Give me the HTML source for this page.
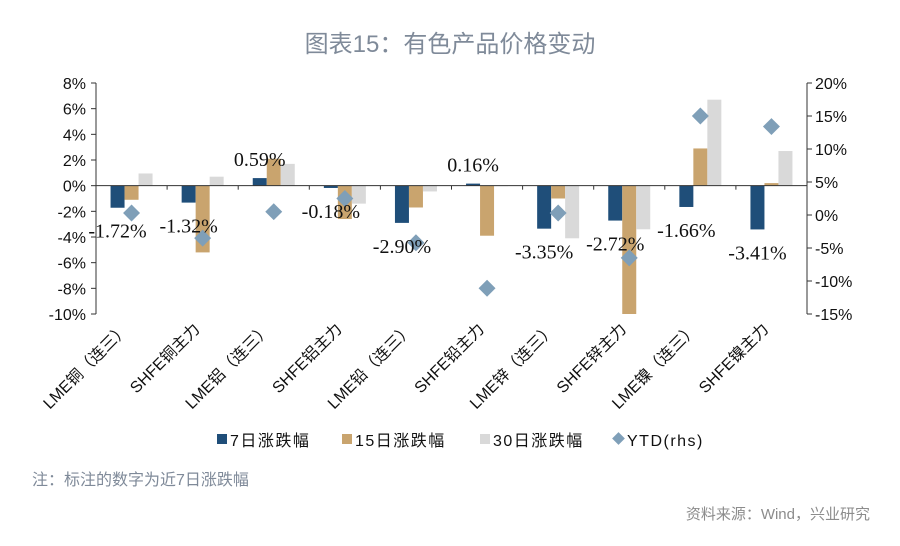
<!DOCTYPE html>
<html><head><meta charset="utf-8"><style>
body{margin:0;background:#fff;width:900px;height:541px;overflow:hidden}
svg text{font-family:"Liberation Sans","Noto Sans CJK SC",sans-serif}
</style></head><body>
<svg id="c" width="900" height="541">
<text x="450" y="52" text-anchor="middle" font-size="24" fill="#7f8a99">图表15：有色产品价格变动</text>
<g id="g"></g>
<text x="32" y="485" font-size="16" fill="#7f8a99">注：标注的数字为近7日涨跌幅</text>
<text x="870" y="519" text-anchor="end" font-size="15" fill="#8c8c8c">资料来源：Wind，兴业研究</text>
</svg>
<script>
const categories=["LME铜（连三）","SHFE铜主力","LME铝（连三）","SHFE铝主力","LME铅（连三）","SHFE铅主力","LME锌（连三）","SHFE锌主力","LME镍（连三）","SHFE镍主力"];
const d7=[-1.72,-1.32,0.59,-0.18,-2.90,0.16,-3.35,-2.72,-1.66,-3.41];
const d15=[-1.1,-5.2,2.1,-2.6,-1.7,-3.9,-1.0,-10.0,2.9,0.2];
const d30=[0.95,0.7,1.7,-1.4,-0.45,0,-4.1,-3.4,6.7,2.7];
const ytd=[0.3,-3.5,0.5,2.5,-4.2,-11.1,0.3,-6.5,15.0,13.4];
const leftTicks=[8,6,4,2,0,-2,-4,-6,-8,-10];
const rightTicks=[20,15,10,5,0,-5,-10,-15];
const X0=96,X1=807,Y0=83,Y1=314;
const yL=v=>Y0+(8-v)/18*(Y1-Y0);
const yR=v=>Y0+(20-v)/35*(Y1-Y0);
const bw=(X1-X0)/categories.length;
const cx=i=>X0+bw*(i+0.5);
const g=document.getElementById('g');
const NS='http://www.w3.org/2000/svg';
function mk(t,a,txt){const e=document.createElementNS(NS,t);for(const k in a)e.setAttribute(k,a[k]);if(txt!==undefined)e.textContent=txt;g.appendChild(e);return e;}
let e;
e=mk('line',{x1:X0,y1:Y0,x2:X0,y2:Y1,stroke:'#333'});


e=mk('line',{x1:X1,y1:Y0,x2:X1,y2:Y1,stroke:'#333'});


leftTicks.forEach(v=>{
 mk('line',{x1:X0-5,x2:X0,y1:yL(v),y2:yL(v),stroke:'#333'});
 e=mk('text',{x:X0-10,y:yL(v)+6,'text-anchor':'end','font-size':16,fill:'#111'},v+'%');
 
 
});
rightTicks.forEach(v=>{
 mk('line',{x1:X1,x2:X1+5,y1:yR(v),y2:yR(v),stroke:'#333'});
 e=mk('text',{x:X1+8,y:yR(v)+6,'font-size':16,fill:'#111'},v+'%');
 
 
});
const W=14,cols=['#1f4e79','#c9a46e','#d9d9d9'],series=[d7,d15,d30],sn=['bar-7d','bar-15d','bar-30d'];
categories.forEach((c,i)=>{
 series.forEach((s,k)=>{
  const x=cx(i)-1.5*W+k*W,y=Math.min(yL(0),yL(s[i])),h=Math.abs(yL(s[i])-yL(0));
  e=mk('rect',{x:x,y:y,width:W,height:Math.max(h,0.5),fill:cols[k]});
  
  
 });
 const ty=yR(ytd[i]);
 e=mk('rect',{x:cx(i)-6,y:ty-6,width:12,height:12,fill:'#7f9fb8',transform:`rotate(45 ${cx(i)} ${ty})`});
 
 
 const bx=cx(i)-W,v=d7[i];
 const ly=v>=0?yL(v)-12:yL(v)+30;
 e=mk('text',{x:bx,y:ly,'text-anchor':'middle','font-size':20,fill:'#111','font-family':'Liberation Serif,serif'},v.toFixed(2)+'%');
 e.style.fontFamily='"Liberation Serif",serif';
 
 
 mk('line',{x1:X0+bw*(i+1),x2:X0+bw*(i+1),y1:yL(0),y2:yL(0)+4,stroke:'#333'});
 e=mk('text',{x:cx(i)-2,y:330,'text-anchor':'end','font-size':16,fill:'#111',transform:`rotate(-45 ${cx(i)-2} 330)`},c);
 
 
});
e=mk('line',{x1:X0,y1:yL(0),x2:X1,y2:yL(0),stroke:'#333'});


const legend=[['7日涨跌幅','#1f4e79',217],['15日涨跌幅','#c9a46e',342],['30日涨跌幅','#d9d9d9',480],['YTD(rhs)','#7f9fb8',614]];
legend.forEach((l,k)=>{
 if(k<3){e=mk('rect',{x:l[2],y:434,width:10,height:10,fill:l[1]});}
 else{e=mk('rect',{x:l[2],y:434,width:9,height:9,fill:l[1],transform:`rotate(45 ${l[2]+4.5} 438.5)`});}
 
 
 e=mk('text',{x:l[2]+13,y:446,'font-size':16,fill:'#111','letter-spacing':'1.5'},l[0]);
 
 
});
</script>
</body></html>
